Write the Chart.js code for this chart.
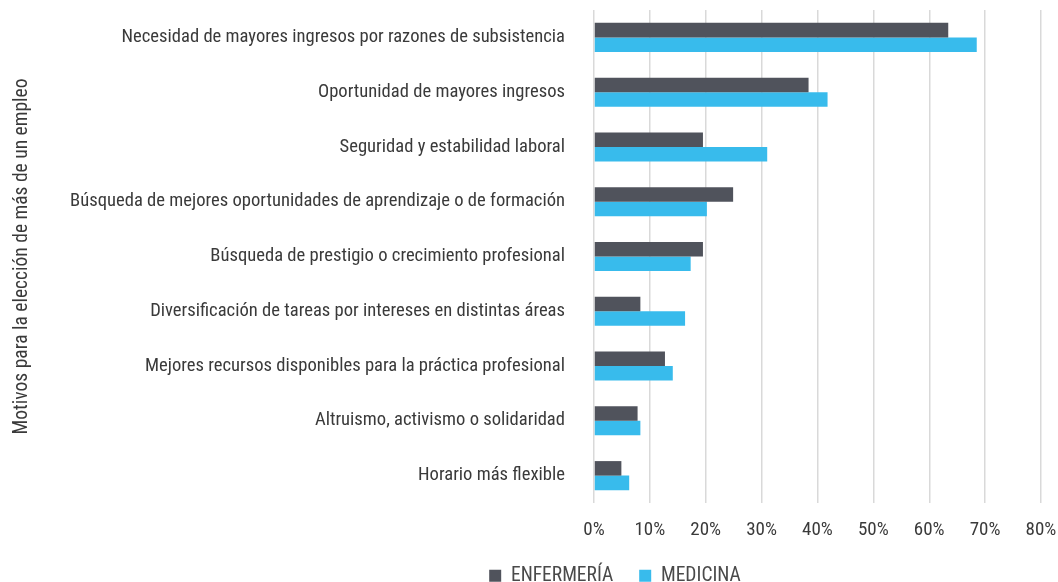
<!DOCTYPE html>
<html>
<head>
<meta charset="utf-8">
<script src="https://cdn.jsdelivr.net/npm/chart.js@4/dist/chart.umd.min.js"></script>
<style>
  html, body { margin: 0; padding: 0; background: #fff; }
  #wrap { width: 1058px; height: 582px; position: relative; }
</style>
</head>
<body>
<div id="wrap"><canvas id="myChart"></canvas></div>
<script>
'use strict';

// motivos (categorias del eje vertical)
const motivos = [
  'Necesidad de mayores ingresos por razones de subsistencia',
  'Oportunidad de mayores ingresos',
  'Seguridad y estabilidad laboral',
  'Búsqueda de mejores oportunidades de aprendizaje o de formación',
  'Búsqueda de prestigio o crecimiento profesional',
  'Diversificación de tareas por intereses en distintas áreas',
  'Mejores recursos disponibles para la práctica profesional',
  'Altruismo, activismo o solidaridad',
  'Horario más flexible'
];

// porcentajes
const enfermeria = [63.4, 38.4, 19.5, 24.9, 19.5, 8.3, 12.7, 7.8, 4.9];
const medicina = [68.5, 41.8, 31.0, 20.2, 17.3, 16.3, 14.1, 8.3, 6.3];

const xTicks = [0, 10, 20, 30, 40, 50, 60, 70, 80];

const fontFam = '"Liberation Sans Narrow", "Roboto Condensed", Arial Narrow, sans-serif';
const textColor = '#3a3a3a';

// area del grafico como en la imagen
const plotLeft = 594;
const plotBottom = 503;
const legendMid = 615;
const legendH = 40;

// mueve la leyenda (no esta centrada en el canvas)
const legendMover = {
  id: 'legendMover',
  afterLayout(chart) {
    const lg = chart.legend;
    const w = lg.right - lg.left;
    lg.left = legendMid - w / 2;
    lg.right = legendMid + w / 2;
    lg.top = 540;
  }
};

var ctx = document.getElementById('myChart').getContext('2d');

var myChart = new Chart(ctx, {
  type: 'bar',
  data: {
    labels: motivos,
    datasets: [
      {
        label: 'ENFERMERÍA',
        data: enfermeria,
        backgroundColor: '#50535c',
        borderWidth: 0
      },
      {
        label: 'MEDICINA',
        data: medicina,
        backgroundColor: '#38bbec',
        borderWidth: 0
      }
    ]
  },
  options: {
    indexAxis: 'y',
    responsive: true,
    maintainAspectRatio: false,
    animation: false,
    datasets: {
      bar: { barPercentage: 1, categoryPercentage: 0.53 }
    },
    layout: { padding: { top: 10, right: 17, left: 0, bottom: 0 } },
    scales: {
      x: {
        min: 0,
        max: 80,
        afterBuildTicks: function (axis) {
          axis.ticks = xTicks.map(v => ({ value: v }));
        },
        afterFit: function (scale) {
          scale.height = 582 - plotBottom - legendH;
          scale.paddingLeft = 0;
          scale.paddingRight = 0;
        },
        ticks: {
          callback: v => v + '%',
          color: textColor,
          font: { family: fontFam, size: 19 },
          padding: 16,
          maxRotation: 0
        },
        grid: { color: '#d9d9d9', lineWidth: 1.5, drawTicks: false },
        border: { display: false }
      },
      y: {
        afterFit: function (scale) {
          scale.width = plotLeft;
          scale.paddingTop = 0;
          scale.paddingBottom = 0;
        },
        ticks: {
          color: textColor,
          font: { family: fontFam, size: 18.6 },
          padding: 29,
          autoSkip: false
        },
        grid: { display: false, drawTicks: false },
        border: { display: false },
        title: {
          display: true,
          text: 'Motivos para la elección de más de un empleo',
          color: textColor,
          font: { family: fontFam, size: 19.5 },
          padding: { top: 10, bottom: 0 }
        }
      }
    },
    plugins: {
      legend: {
        position: 'bottom',
        maxHeight: legendH,
        labels: {
          boxWidth: 12,
          boxHeight: 12,
          padding: 26,
          color: '#4a4a4a',
          font: { family: fontFam, size: 19.5 }
        }
      },
      tooltip: { enabled: false }
    }
  },
  plugins: [legendMover]
});
</script>
</body>
</html>
